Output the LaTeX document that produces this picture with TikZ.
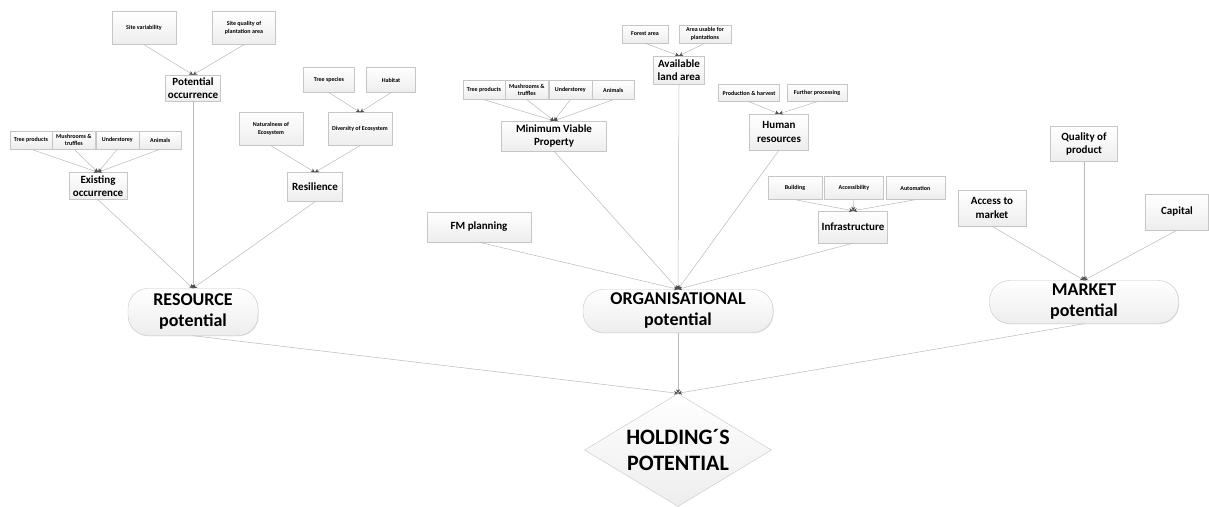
\documentclass[tikz,border=0pt]{standalone}
\usepackage{fontspec}
\setmainfont{Carlito}
\usetikzlibrary{positioning, arrows.meta, shapes.geometric, shadows}

\begin{document}
\begin{tikzpicture}[
    x=1pt, y=-1pt,          % 1 unit = 1pt, y grows downwards
    font=\bfseries,
    >={Stealth[length=4pt, width=4pt, color=black!70]},
    box/.style={draw=gray!45, top color=white, bottom color=gray!14,
        align=center, inner sep=1pt,
        drop shadow={opacity=0.18, shadow xshift=0.8pt, shadow yshift=-0.8pt}},
    leaf/.style={box, font=\fontsize{6}{7.5}\selectfont\bfseries},
    mid/.style={box, font=\fontsize{11}{13.5}\selectfont\bfseries},
    pot/.style={box, rounded corners=20pt, font=\fontsize{18}{21}\selectfont\bfseries},
    goal/.style={diamond, draw=gray!45, top color=white, bottom color=gray!14,
        aspect=1.65, inner sep=0pt, align=center,
        font=\fontsize{22}{26}\selectfont\bfseries},
    link/.style={->, draw=gray!55, line width=0.5pt}
]
    \useasboundingbox (0,0) rectangle (1209,506);

    % --- 1. Resource branch ---
    \node [leaf, minimum width=64, minimum height=33] (sitevar) at (144,28) {Site variability};
    \node [leaf, minimum width=63, minimum height=33] (sitequal) at (244,28) {Site quality of\\plantation area};
    \node [mid, minimum width=55, minimum height=26] (potocc) at (193,88) {Potential\\occurrence};

    \node [leaf, minimum width=42, minimum height=18] (treeA) at (31,140) {Tree products};
    \node [leaf, minimum width=43, minimum height=18, right=0pt of treeA] (mushA) {Mushrooms \&\\truffles};
    \node [leaf, minimum width=43, minimum height=18, right=0pt of mushA] (underA) {Understorey};
    \node [leaf, minimum width=42, minimum height=18, right=0pt of underA] (animA) {Animals};
    \node [mid, minimum width=58, minimum height=27] (existocc) at (98,186) {Existing\\occurrence};

    \node [leaf, minimum width=51, minimum height=25] (species) at (329,80) {Tree species};
    \node [leaf, minimum width=49, minimum height=25] (habitat) at (391,80) {Habitat};
    \node [leaf, minimum width=64, minimum height=33] (natur) at (271,129) {Naturalness of\\Ecosystem};
    \node [leaf, minimum width=64, minimum height=33] (divers) at (360,129) {Diversity of Ecosystem};
    \node [mid, minimum width=55, minimum height=29] (resil) at (315,187) {Resilience};

    \node [pot, minimum width=130, minimum height=47] (resource) at (193,312) {RESOURCE\\potential};

    % --- 2. Organisational branch ---
    \node [leaf, minimum width=46, minimum height=18] (forest) at (645,34) {Forest area};
    \node [leaf, minimum width=52, minimum height=18] (areaus) at (705,34) {Area usable for\\plantations};
    \node [mid, minimum width=51, minimum height=28] (avail) at (679,70) {Available\\land area};

    \node [leaf, minimum width=42, minimum height=19] (treeB) at (484,90) {Tree products};
    \node [leaf, minimum width=43, minimum height=19, right=0pt of treeB] (mushB) {Mushrooms \&\\truffles};
    \node [leaf, minimum width=43, minimum height=19, right=0pt of mushB] (underB) {Understorey};
    \node [leaf, minimum width=42, minimum height=19, right=0pt of underB] (animB) {Animals};
    \node [mid, minimum width=105, minimum height=30] (minviable) at (554,136) {Minimum Viable\\Property};

    \node [leaf, minimum width=61, minimum height=17] (prodh) at (749,93) {Production \& harvest};
    \node [leaf, minimum width=60, minimum height=17] (furth) at (817,93) {Further processing};
    \node [mid, minimum width=59, minimum height=36] (human) at (779,132) {Human\\resources};

    \node [leaf, minimum width=54, minimum height=23] (build) at (795,188) {Building};
    \node [leaf, minimum width=59, minimum height=23, right=2pt of build] (access) {Accessibility};
    \node [leaf, minimum width=59, minimum height=23, right=2pt of access] (autom) {Automation};
    \node [mid, minimum width=69, minimum height=32] (infra) at (853,227) {Infrastructure};

    \node [mid, minimum width=104, minimum height=30] (fmplan) at (479,227) {FM planning};

    \node [pot, minimum width=190, minimum height=43] (organ) at (678,311) {ORGANISATIONAL\\potential};

    % --- 3. Market branch ---
    \node [mid, minimum width=67, minimum height=35] (quality) at (1084,144) {Quality of\\product};
    \node [mid, minimum width=68, minimum height=36] (accmkt) at (992,208) {Access to\\market};
    \node [mid, minimum width=63, minimum height=36] (capital) at (1177,212) {Capital};

    \node [pot, minimum width=189, minimum height=43] (market) at (1084,302) {MARKET\\potential};

    % --- 4. Overall goal ---
    \node [goal, minimum width=187, minimum height=113] (holding) at (678,450) {HOLDING´S\\POTENTIAL};

    % --- 5. Links ---
    \foreach \c in {sitevar, sitequal} \draw [link] (\c.south) -- (potocc.north);
    \foreach \c in {treeA, mushA, underA, animA} \draw [link] (\c.south) -- (existocc.north);
    \foreach \c in {species, habitat} \draw [link] (\c.south) -- (divers.north);
    \foreach \c in {natur, divers} \draw [link] (\c.south) -- (resil.north);
    \foreach \c in {existocc, potocc, resil} \draw [link] (\c.south) -- (resource.north);

    \foreach \c in {forest, areaus} \draw [link] (\c.south) -- (avail.north);
    \foreach \c in {treeB, mushB, underB, animB} \draw [link] (\c.south) -- (minviable.north);
    \foreach \c in {prodh, furth} \draw [link] (\c.south) -- (human.north);
    \foreach \c in {build, access, autom} \draw [link] (\c.south) -- (infra.north);
    \foreach \c in {fmplan, minviable, avail, human, infra} \draw [link] (\c.south) -- (organ.north);

    \foreach \c in {accmkt, quality, capital} \draw [link] (\c.south) -- (market.north);

    \foreach \c in {resource, organ, market} \draw [link] (\c.south) -- (holding.north);

\end{tikzpicture}
\end{document}
